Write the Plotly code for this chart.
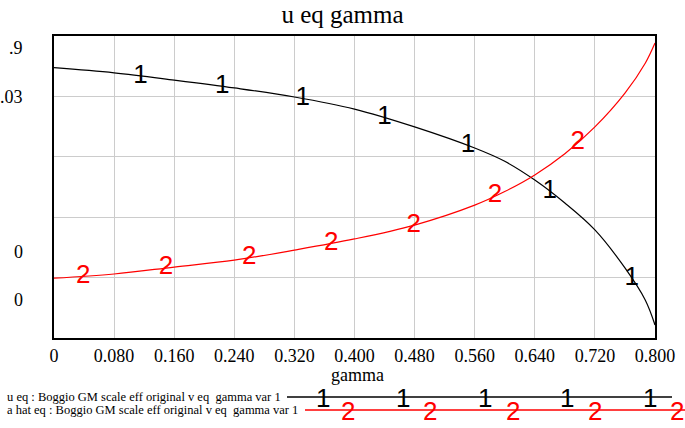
import numpy as np
import plotly.graph_objects as go

# gamma sample points
gamma = [0.0, 0.08, 0.16, 0.24, 0.32, 0.40, 0.48, 0.56, 0.60, 0.64, 0.68, 0.72, 0.76, 0.787, 0.80]

# u eq (line 1) and a hat eq (line 2)
u_eq = [0.895, 0.878, 0.854, 0.828, 0.798, 0.758, 0.699, 0.629, 0.585, 0.523, 0.447, 0.358, 0.232, 0.126, 0.043]
a_hat_eq = [0.198, 0.212, 0.235, 0.258, 0.291, 0.328, 0.374, 0.440, 0.485, 0.540, 0.610, 0.699, 0.811, 0.910, 0.977]

# where the series numbers sit along each curve
marks_1 = [0.115, 0.224, 0.331, 0.44, 0.551, 0.66, 0.769]
marks_2 = [0.039, 0.149, 0.26, 0.369, 0.479, 0.587, 0.697]

x_ticks = [0, 0.08, 0.16, 0.24, 0.32, 0.40, 0.48, 0.56, 0.64, 0.72, 0.80]
x_ticktext = ["0", "0.080", "0.160", "0.240", "0.320", "0.400", "0.480", "0.560", "0.640", "0.720", "0.800"]

legend_names = [
    "u eq : Boggio GM scale eff original v eq  gamma var 1",
    "a hat eq : Boggio GM scale eff original v eq  gamma var 1",
]

SERIF = "Liberation Serif, Times New Roman, serif"
SANS = "Liberation Sans, Arial, sans-serif"

# plot area in pixels
L, R, T, B = 54, 655, 36, 338


def px(x):
    return (x - L) / (R - L)


def py(y):
    return (B - y) / (B - T)


fig = go.Figure()
fig.add_trace(go.Scatter(x=gamma, y=u_eq, mode="lines", line=dict(color="black", width=1.2, shape="spline")))
fig.add_trace(go.Scatter(x=gamma, y=a_hat_eq, mode="lines", line=dict(color="red", width=1.2, shape="spline")))
fig.add_trace(go.Scatter(
    x=marks_1, y=np.interp(marks_1, gamma, u_eq), mode="text", text=["1"] * len(marks_1),
    textfont=dict(family=SANS, size=26, color="black"), textposition="middle center",
))
fig.add_trace(go.Scatter(
    x=marks_2, y=np.interp(marks_2, gamma, a_hat_eq), mode="text", text=["2"] * len(marks_2),
    textfont=dict(family=SANS, size=26, color="red"), textposition="middle center",
))

# y labels (as shown, clipped at the left)
y_labels = [(".9", 48), (".03", 97), ("0", 252), ("0", 300)]
for txt, yy in y_labels:
    fig.add_annotation(x=px(25), y=py(yy), xref="paper", yref="paper", text=txt, showarrow=False,
                       xanchor="right", yanchor="middle", font=dict(family=SERIF, size=18, color="black"))

fig.add_annotation(x=px(357), y=py(375), xref="paper", yref="paper", text="gamma", showarrow=False,
                   xanchor="center", yanchor="middle", font=dict(family=SERIF, size=18, color="black"))

# legend rows
for i, (name, color, y0, x_start, xs, digit) in enumerate([
    (legend_names[0], "black", 397, 287, [323, 403, 485, 567, 650], "1"),
    (legend_names[1], "red", 410, 305, [348, 430, 513, 595, 677], "2"),
]):
    fig.add_annotation(x=px(5), y=py(y0), xref="paper", yref="paper", text=name, showarrow=False,
                       xanchor="left", yanchor="middle", font=dict(family=SERIF, size=12.5, color="black"))
    fig.add_shape(type="line", xref="paper", yref="paper", x0=px(x_start), x1=px(672 if i == 0 else 690),
                  y0=py(y0), y1=py(y0), line=dict(color=color, width=1.5))
    for xx in xs:
        fig.add_annotation(x=px(xx), y=py(y0 + 1), xref="paper", yref="paper", text=digit, showarrow=False,
                           xanchor="center", yanchor="middle", font=dict(family=SANS, size=26, color=color))

fig.update_layout(
    width=685,
    height=428,
    autosize=False,
    margin=dict(l=L, r=685 - R, t=T, b=428 - B),
    plot_bgcolor="white",
    paper_bgcolor="white",
    showlegend=False,
    title=dict(text="u eq gamma", x=0.5, xref="container", xanchor="center",
               y=1 - 14 / 428, yref="container", yanchor="middle",
               font=dict(family=SERIF, size=25, color="black")),
    xaxis=dict(range=[0, 0.8], tickvals=x_ticks, ticktext=x_ticktext, showgrid=True, gridcolor="#cccccc",
               gridwidth=1, showline=True, linecolor="black", linewidth=2, mirror=True, zeroline=False,
               ticks="", automargin=False, tickfont=dict(family=SERIF, size=18, color="black")),
    yaxis=dict(range=[0, 1], dtick=0.2, showticklabels=False, showgrid=True, gridcolor="#cccccc",
               gridwidth=1, showline=True, linecolor="black", linewidth=2, mirror=True, zeroline=False,
               ticks="", automargin=False),
)

fig.write_html("out.html", config={"displayModeBar": False},
               post_script="document.body.style.margin='0';")
